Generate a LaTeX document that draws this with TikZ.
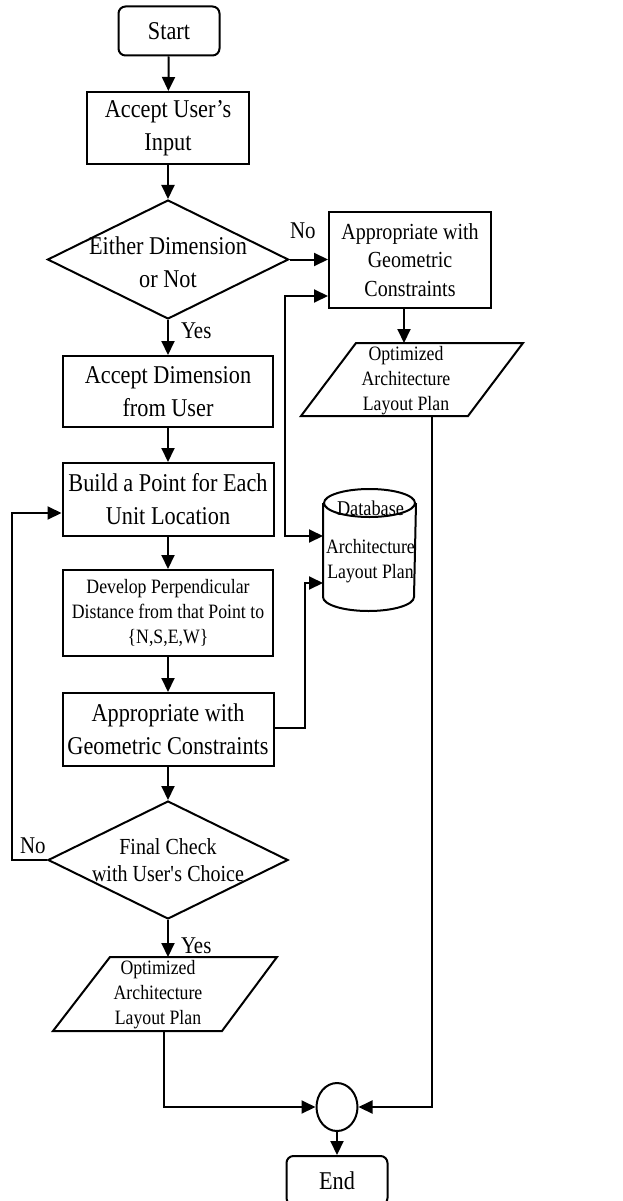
\documentclass[tikz,border=0pt]{standalone}
\usepackage{fontspec}
\setmainfont{Liberation Serif}[FakeStretch=0.87]
\usetikzlibrary{arrows.meta,shapes.geometric}
\begin{document}
\begin{tikzpicture}[x=1pt,y=1pt,
  line width=2pt,
  arr/.style={-{Triangle[length=14pt,width=13pt]}},
  arrb/.style={{Triangle[length=14pt,width=13pt]}-{Triangle[length=14pt,width=13pt]}},
  box/.style={draw, rectangle, inner sep=0pt, align=center},
  term/.style={box, rounded corners=7pt, minimum width=101pt, minimum height=49pt},
  txt/.style={inner sep=0pt, align=center},
  big/.style={font=\fontsize{25.6}{33}\selectfont},
  mid/.style={font=\fontsize{23}{28.5}\selectfont},
  sml/.style={font=\fontsize{20.4}{25}\selectfont},
  chk/.style={font=\fontsize{23}{27}\selectfont},
  lbl/.style={font=\fontsize{24}{28}\selectfont, inner sep=0pt},
  dia/.style={draw, diamond, inner sep=0pt},
  hold/.style={inner sep=0pt, rectangle},
]
\useasboundingbox (0,0) rectangle (622,-1201);

% main column
\node[term,big] (start) at (169,-31) {Start};
\node[box,big,minimum width=162pt,minimum height=72pt] (input) at (168,-128) {Accept User’s\\Input};
\node[dia,minimum width=241pt,minimum height=119pt] (dec1) at (168,-259.5) {};
\node[txt,big] at (168,-262) {Either Dimension\\or Not};
\node[box,big,minimum width=210pt,minimum height=71pt] (accdim) at (168,-391.5) {Accept Dimension\\from User};
\node[box,big,minimum width=211pt,minimum height=73pt] (build) at (168,-499.5) {Build a Point for Each\\Unit Location};
\node[box,sml,minimum width=210pt,minimum height=86pt] (dev) at (168,-613) {Develop Perpendicular\\Distance from that Point to\\\{N,S,E,W\}};
\node[box,big,minimum width=211pt,minimum height=73pt] (appr) at (168,-729.5) {Appropriate with\\Geometric Constraints};
\node[dia,minimum width=240pt,minimum height=118pt] (dec2) at (168,-860) {};
\node[txt,chk] at (168,-860) {Final Check\\with User\textquotesingle s Choice};

% output parallelogram (yes branch)
\node[hold,minimum width=168pt,minimum height=72pt] (para2) at (165.5,-994) {};
\draw ([xshift=-55.5pt]para2.north) -- ([xshift=111.5pt]para2.north)
   -- ([xshift=56.5pt]para2.south) -- ([xshift=-112.5pt]para2.south) -- cycle;
\node[txt,sml] at (158,-995) {Optimized\\Architecture\\Layout Plan};

% right column
\node[box,mid,minimum width=162pt,minimum height=96pt] (boxr) at (410,-260) {Appropriate with\\Geometric\\Constraints};
\node[hold,minimum width=168pt,minimum height=71pt] (para1) at (412,-379.5) {};
\draw ([xshift=-56pt]para1.north) -- ([xshift=111pt]para1.north)
   -- ([xshift=56pt]para1.south) -- ([xshift=-111pt]para1.south) -- cycle;
\node[txt,sml] at (406,-381) {Optimized\\Architecture\\Layout Plan};

% database cylinder
\node[hold,minimum width=91pt,minimum height=120pt] (db) at (369.5,-550) {};
\draw ([yshift=-14pt]db.north) ellipse[x radius=45.5, y radius=14];
\draw ([yshift=-14pt]db.north west) -- ([yshift=14pt]db.south west)
   arc[start angle=180, end angle=360, x radius=45.5, y radius=14]
   -- ([yshift=-14pt]db.north east);
\node[txt,font=\fontsize{21}{25}\selectfont] at (370.5,-508) {Database};
\node[txt,sml] at (370.5,-561) {Architecture\\Layout Plan};

% merge and end
\node[draw,ellipse,inner sep=0pt,minimum width=41pt,minimum height=48pt] (circ) at (337,-1107) {};
\node[term,big] (end) at (337,-1180.5) {End};

% connectors
\draw[arr] (start) -- (input);
\draw[arr] (input) -- (dec1);
\draw[arr] (dec1.east) -- (boxr.west |- dec1.east);
\node[lbl,anchor=base west] at (289,-238) {No};
\draw[arr] (dec1) -- (accdim);
\node[lbl,anchor=base west] at (180,-338) {Yes};
\draw[arr] (accdim) -- (build);
\draw[arr] (build) -- (dev);
\draw[arr] (dev) -- (appr);
\draw[arr] (appr) -- (dec2);
\draw[arr] (dec2) -- (para2.north -| dec2.south);
\node[lbl,anchor=base west] at (180,-953) {Yes};
\draw[arr] (dec2.west) -- ++(-35,0) |- ([yshift=-13.5pt]build.west);
\node[lbl,anchor=base west] at (19,-853) {No};
\draw[arr] ([yshift=1.5pt]appr.east) -- ++(30,0) |- ([yshift=-33pt]db.west);
\draw[arrb] ([yshift=-36pt]boxr.west) -- ++(-43,0) |- ([yshift=14pt]db.west);
\draw[arr] ([xshift=-6pt]boxr.south) -- ([xshift=-8pt]para1.north);
\draw[arr] ([xshift=20pt]para1.south) |- (circ.east);
\draw[arr] ([xshift=-1.5pt]para2.south) |- (circ.west);
\draw[arr] (circ) -- (end);
\end{tikzpicture}
\end{document}
